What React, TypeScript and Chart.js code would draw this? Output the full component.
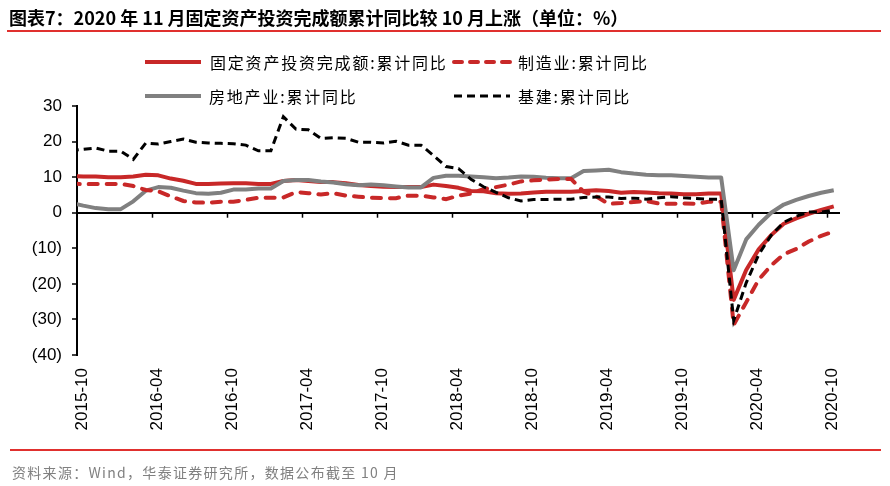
import React, { useEffect, useRef } from "react";
import { Chart, registerables } from "chart.js";

Chart.register(...registerables);

// Months (2015-09 lies just left of the axis start and is clipped)
const months: string[] = [
  "2015-09", "2015-10", "2015-11", "2015-12",
  "2016-01", "2016-02", "2016-03", "2016-04", "2016-05", "2016-06", "2016-07", "2016-08", "2016-09", "2016-10", "2016-11", "2016-12",
  "2017-01", "2017-02", "2017-03", "2017-04", "2017-05", "2017-06", "2017-07", "2017-08", "2017-09", "2017-10", "2017-11", "2017-12",
  "2018-01", "2018-02", "2018-03", "2018-04", "2018-05", "2018-06", "2018-07", "2018-08", "2018-09", "2018-10", "2018-11", "2018-12",
  "2019-01", "2019-02", "2019-03", "2019-04", "2019-05", "2019-06", "2019-07", "2019-08", "2019-09", "2019-10", "2019-11", "2019-12",
  "2020-01", "2020-02", "2020-03", "2020-04", "2020-05", "2020-06", "2020-07", "2020-08", "2020-09", "2020-10",
];

const tickLabels: string[] = [
  "2015-10", "2016-04", "2016-10", "2017-04", "2017-10", "2018-04",
  "2018-10", "2019-04", "2019-10", "2020-04", "2020-10",
];

const yTickValues: number[] = [30, 20, 10, 0, -10, -20, -30, -40];

const faiTotal: number[] = [
  10.3, 10.2, 10.2, 10.0,
  10.0, 10.2, 10.7, 10.5, 9.6, 9.0, 8.1, 8.1, 8.2, 8.3, 8.3, 8.1,
  8.1, 8.9, 9.2, 8.9, 8.6, 8.6, 8.3, 7.8, 7.5, 7.3, 7.2, 7.2,
  7.2, 7.9, 7.5, 7.0, 6.1, 6.0, 5.5, 5.3, 5.4, 5.7, 5.9, 5.9,
  5.9, 6.1, 6.3, 6.1, 5.6, 5.8, 5.7, 5.5, 5.4, 5.2, 5.2, 5.4,
  5.4, -24.5, -16.1, -10.3, -6.3, -3.1, -1.6, -0.3, 0.8, 1.8,
];

const manufacturing: number[] = [
  8.3, 8.0, 8.1, 8.1,
  8.1, 7.5, 6.4, 6.0, 4.6, 3.3, 2.9, 2.8, 3.1, 3.1, 3.6, 4.2,
  4.2, 4.3, 5.8, 5.5, 5.1, 5.5, 4.8, 4.5, 4.2, 4.1, 4.1, 4.8,
  4.8, 4.3, 3.8, 4.8, 5.4, 6.6, 7.2, 7.9, 8.8, 9.1, 9.3, 9.5,
  9.5, 5.9, 4.6, 2.5, 2.7, 3.0, 3.3, 2.6, 2.5, 2.6, 2.5, 3.1,
  3.1, -31.5, -25.2, -18.8, -14.8, -11.7, -10.2, -8.1, -6.5, -5.3,
];

const realEstate: number[] = [
  2.8, 2.0, 1.3, 1.0,
  1.0, 3.2, 6.2, 7.2, 7.0, 6.2, 5.5, 5.3, 5.6, 6.5, 6.5, 6.8,
  6.8, 8.9, 9.2, 9.2, 8.8, 8.5, 8.0, 7.7, 7.9, 7.7, 7.4, 7.1,
  7.1, 9.8, 10.4, 10.4, 10.2, 10.0, 9.7, 9.9, 10.2, 10.1, 9.8, 9.7,
  9.7, 11.7, 11.9, 12.1, 11.4, 11.0, 10.7, 10.5, 10.5, 10.3, 10.1, 9.9,
  9.9, -16.2, -7.5, -3.4, 0.0, 2.3, 3.6, 4.7, 5.6, 6.3,
];

const infrastructure: number[] = [
  17.5, 17.8, 18.2, 17.3,
  17.3, 15.0, 19.6, 19.3, 20.0, 20.7, 19.8, 19.6, 19.5, 19.4, 19.0, 17.4,
  17.4, 27.0, 23.5, 23.3, 20.9, 21.1, 20.9, 19.8, 19.8, 19.6, 20.1, 19.0,
  19.0, 16.1, 13.0, 12.4, 9.4, 7.3, 5.7, 4.2, 3.3, 3.7, 3.7, 3.8,
  3.8, 4.3, 4.4, 4.4, 4.0, 4.1, 3.8, 4.2, 4.5, 4.2, 4.0, 3.8,
  3.8, -30.3, -19.7, -11.8, -6.3, -2.7, -1.0, 0.2, 0.2, 0.7,
];

const seriesNames = [
  "固定资产投资完成额:累计同比",
  "制造业:累计同比",
  "房地产业:累计同比",
  "基建:累计同比",
];

const RED = "rgb(200,40,40)";
const GRAY = "rgb(128,128,128)";
const BLACK = "#000000";

// month string -> position in months since 2015-10 (points sit mid-month)
function monthPos(m: string): number {
  const [yy, mm] = m.split("-").map(Number);
  return (yy - 2015) * 12 + (mm - 10) + 0.5;
}

function toPoints(values: number[]) {
  return values.map((v, i) => ({ x: monthPos(months[i]), y: v }));
}

const zeroTicksPlugin = {
  id: "zeroTicks",
  afterDatasetsDraw(chart: any) {
    const { ctx, scales, chartArea } = chart;
    const xs = scales.x;
    const y0 = scales.y.getPixelForValue(0);
    ctx.save();
    ctx.strokeStyle = "#000";
    ctx.lineWidth = 1.5;
    xs.ticks.forEach((t: any) => {
      const px = Math.round(xs.getPixelForValue(t.value)) + 0.5;
      if (px <= chartArea.left + 2) return;
      ctx.beginPath();
      ctx.moveTo(px, y0);
      ctx.lineTo(px, y0 + 5);
      ctx.stroke();
    });
    ctx.restore();
  },
};

function LegendLine({ color, width, dash, cap }: { color: string; width: number; dash?: string; cap?: string }) {
  return (
    <svg width={60} height={10} style={{ display: "block" }}>
      <line
        x1={2}
        y1={5}
        x2={58}
        y2={5}
        stroke={color}
        strokeWidth={width}
        strokeDasharray={dash}
        strokeLinecap={cap as any}
      />
    </svg>
  );
}

export default function App() {
  const canvasRef = useRef<HTMLCanvasElement | null>(null);

  useEffect(() => {
    if (!canvasRef.current) return;
    const chart = new Chart(canvasRef.current, {
      type: "line",
      data: {
        datasets: [
          {
            label: seriesNames[3],
            data: toPoints(infrastructure),
            borderColor: BLACK,
            borderWidth: 3,
            borderDash: [8, 5],
            borderCapStyle: "butt",
            pointRadius: 0,
            tension: 0,
            clip: 0,
            order: 0,
          },
          {
            label: seriesNames[1],
            data: toPoints(manufacturing),
            borderColor: RED,
            borderWidth: 4,
            borderDash: [9, 9],
            borderCapStyle: "round",
            pointRadius: 0,
            tension: 0,
            clip: 0,
            order: 1,
          },
          {
            label: seriesNames[2],
            data: toPoints(realEstate),
            borderColor: GRAY,
            borderWidth: 4,
            borderJoinStyle: "round",
            pointRadius: 0,
            tension: 0,
            clip: 0,
            order: 2,
          },
          {
            label: seriesNames[0],
            data: toPoints(faiTotal),
            borderColor: RED,
            borderWidth: 4,
            borderJoinStyle: "round",
            pointRadius: 0,
            tension: 0,
            clip: 0,
            order: 3,
          },
        ] as any,
      },
      options: {
        responsive: false,
        animation: false,
        devicePixelRatio: 1,
        layout: { padding: { top: 106, right: 50, bottom: 51, left: 0 } },
        plugins: {
          legend: { display: false },
          tooltip: { enabled: false },
        },
        scales: {
          x: {
            type: "linear",
            min: 0,
            max: 61,
            afterBuildTicks: (scale: any) => {
              scale.ticks = tickLabels.map((_, k) => ({ value: k * 6 }));
            },
            afterFit: (scale: any) => {
              scale.height = 80;
            },
            grid: { display: false, drawTicks: false },
            border: { display: false },
            ticks: {
              autoSkip: false,
              maxRotation: 90,
              minRotation: 90,
              padding: 13,
              labelOffset: 5,
              color: "#000",
              font: { family: "'Liberation Sans', Arial, sans-serif", size: 17 },
              callback: (v: any) => tickLabels[Math.round(Number(v) / 6)] ?? "",
            },
          },
          y: {
            type: "linear",
            min: -40,
            max: 30,
            afterBuildTicks: (scale: any) => {
              scale.ticks = yTickValues.map((v) => ({ value: v }));
            },
            afterFit: (scale: any) => {
              scale.width = 77;
            },
            grid: {
              color: (c: any) => (c.tick && c.tick.value === 0 ? "#000" : "rgba(0,0,0,0)"),
              lineWidth: 2,
              drawTicks: true,
              tickLength: 5,
              tickColor: "#000",
              tickWidth: 1.5,
            },
            border: { display: true, color: "#000", width: 2 },
            ticks: {
              padding: 10,
              color: "#000",
              font: { family: "'Liberation Sans', Arial, sans-serif", size: 17 },
              callback: (v: any) => (Number(v) < 0 ? `(${-Number(v)})` : `${v}`),
            },
          },
        },
      },
      plugins: [zeroTicksPlugin],
    });
    return () => chart.destroy();
  }, []);

  const cjk = "'Noto Sans CJK SC', 'Noto Sans', sans-serif";
  const legendText: React.CSSProperties = {
    position: "absolute",
    fontFamily: cjk,
    fontSize: 16,
    letterSpacing: 1.8,
    color: "#000",
    lineHeight: "20px",
    whiteSpace: "nowrap",
  };

  return (
    <div style={{ position: "absolute", left: 0, top: 0, width: 890, height: 486, background: "#fff", overflow: "hidden" }}>
      <canvas ref={canvasRef} width={890} height={486} style={{ position: "absolute", left: 0, top: 0, display: "block" }} />
      <div
        style={{
          position: "absolute",
          left: 9,
          top: 5,
          fontFamily: cjk,
          fontWeight: 700,
          fontSize: 18,
          lineHeight: "24px",
          color: "#000",
          whiteSpace: "nowrap",
        }}
      >
        图表7：2020 年 11 月固定资产投资完成额累计同比较 10 月上涨（单位：%）
      </div>
      <div style={{ position: "absolute", left: 7, top: 30, width: 874, height: 2, background: "#e0302e" }} />

      {/* legend */}
      <div style={{ position: "absolute", left: 143, top: 57 }}>
        <LegendLine color={RED} width={4} />
      </div>
      <div style={{ ...legendText, left: 210, top: 52 }}>{seriesNames[0]}</div>
      <div style={{ position: "absolute", left: 452, top: 57 }}>
        <LegendLine color={RED} width={4} dash="8 8" cap="round" />
      </div>
      <div style={{ ...legendText, left: 518, top: 52 }}>{seriesNames[1]}</div>
      <div style={{ position: "absolute", left: 143, top: 91 }}>
        <LegendLine color={GRAY} width={4} />
      </div>
      <div style={{ ...legendText, left: 209, top: 86 }}>{seriesNames[2]}</div>
      <div style={{ position: "absolute", left: 452, top: 91 }}>
        <LegendLine color={BLACK} width={3} dash="8 5" />
      </div>
      <div style={{ ...legendText, left: 518, top: 86 }}>{seriesNames[3]}</div>

      <div style={{ position: "absolute", left: 10, top: 449, width: 871, height: 2, background: "#e0302e" }} />
      <div
        style={{
          position: "absolute",
          left: 12,
          top: 462,
          fontFamily: cjk,
          fontSize: 14,
          letterSpacing: 1.3,
          lineHeight: "20px",
          color: "#808080",
          whiteSpace: "nowrap",
        }}
      >
        资料来源：Wind，华泰证券研究所，数据公布截至 10 月
      </div>
    </div>
  );
}
